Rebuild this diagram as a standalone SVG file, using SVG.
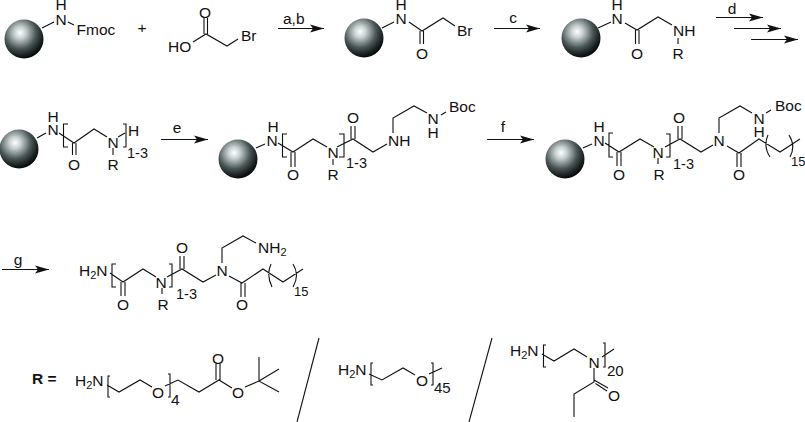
<svg xmlns="http://www.w3.org/2000/svg" width="805" height="422" viewBox="0 0 805 422">
<style>
text{font-family:"Liberation Sans",Arial,sans-serif;font-size:15.5px;fill:#111}
.c{text-anchor:middle}
.b{fill:none;stroke:#111;stroke-width:1.1}
.a{fill:none;stroke:#111;stroke-width:1.1;marker-end:url(#ah)}
.sub{font-size:11px}
.n13{font-size:13px}
.n14{font-size:14.500px}
.n15{font-size:15px}
</style>
<defs>
<radialGradient id="ball" cx="0.4" cy="0.34" r="0.68"><stop offset="0" stop-color="#fff"/><stop offset="0.22" stop-color="#c8d0d0"/><stop offset="0.6" stop-color="#4a5656"/><stop offset="0.85" stop-color="#1a2020"/><stop offset="1" stop-color="#040606"/></radialGradient>
<marker id="ah" markerUnits="userSpaceOnUse" markerWidth="16" markerHeight="10" refX="14" refY="4" orient="auto" overflow="visible"><path d="M0 0L14 4L0 8L3 4Z" fill="#111"/></marker>
</defs>
<g id="connectors">
<path class="a" d="M278 28.500H324"/>
<path class="a" d="M494 28.500H540"/>
<path class="a" d="M716 17.500H763"/>
<path class="a" d="M734 28.500H781"/>
<path class="a" d="M751 39.500H798"/>
<path class="a" d="M161 139.500H208"/>
<path class="a" d="M487 139.500H534"/>
<path class="a" d="M2 269.500H49"/>
</g>
<g id="node-1">
<circle cx="24" cy="39" r="19.500" fill="url(#ball)"/>
<path class="b" d="M42 28L54 22M68 22L74 25"/>
<text class="c" x="61" y="24.500">N</text><text class="c" x="61" y="10">H</text><text x="76.500" y="35">Fmoc</text>
</g>
<text id="plus" class="c" x="142" y="33">+</text>
<g id="node-2">
<path class="b" d="M193 42L206 34L227 46L238 39M204 34V18M207.500 34V18"/>
<text x="168" y="52">HO</text><text class="c" x="205" y="18">O</text><text x="241" y="40.500">Br</text>
</g>
<text id="label-ab" x="283" y="23.500">a,b</text>
<g id="node-3">
<circle cx="364" cy="38" r="19.500" fill="url(#ball)"/>
<path class="b" d="M382 28L394 22M409 22L422 31L443 18L455 26M420 31V44M423.500 31V44"/>
<text class="c" x="401" y="24">N</text><text class="c" x="401" y="10">H</text><text class="c" x="422" y="58.500">O</text><text x="457" y="35.500">Br</text>
</g>
<text id="label-c" class="c" x="513" y="23">c</text>
<g id="node-4">
<circle cx="581" cy="38" r="19.500" fill="url(#ball)"/>
<path class="b" d="M598 28L611 22M625 23L637 30L658 17L672 25M635.500 30V44M639 30V44M678 38V44"/>
<text class="c" x="617" y="23.500">N</text><text class="c" x="617" y="10">H</text><text class="c" x="637" y="58.500">O</text><text x="673" y="36">NH</text><text class="c" x="678" y="58.500">R</text>
</g>
<text id="label-d" class="c" x="732" y="13.500">d</text>
<g id="node-5">
<circle cx="19" cy="149" r="19.500" fill="url(#ball)"/>
<path class="b" d="M37 138L46 133M68 124H63.500V147H68M59 133L74 143L94 129L107 137M72.500 143V155M76 143V155M113 148V155M118 137L125 133M123 124H126V147H123"/>
<text class="c" x="53" y="134.500">N</text><text class="c" x="53" y="122">H</text><text class="c" x="74" y="169.500">O</text><text class="c" x="113" y="147.500">N</text><text x="128" y="135.500">H</text><text class="c" x="113" y="169.500">R</text><text class="n14" x="127" y="158">1-3</text>
</g>
<text id="label-e" class="c" x="177" y="133">e</text>
<g id="node-6">
<circle cx="238" cy="159" r="19.500" fill="url(#ball)"/>
<path class="b" d="M256 148L265 144M287 134H282.500V157H287M278 143L293 152L313 139L327 147M291 152V167M295 152V167M333 159V165M339 134H344V157H339M337 147L353 139L373 152L387 144M351 139V126M355 139V126M393 133V118L414 106L427 113M441 115L446 112"/>
<text class="c" x="272" y="145.500">N</text><text class="c" x="273" y="131.500">H</text><text class="c" x="293" y="179.500">O</text><text class="c" x="333" y="157.500">N</text><text class="c" x="333" y="179.500">R</text><text class="n14" x="346" y="168">1-3</text><text class="c" x="353" y="122.500">O</text><text x="388" y="146">NH</text><text class="c" x="433" y="123.500">N</text><text class="c" x="433" y="137.500">H</text><text x="449" y="112">Boc</text>
</g>
<text id="label-f" class="c" x="503" y="132">f</text>
<g id="node-7">
<circle cx="565" cy="159" r="19.500" fill="url(#ball)"/>
<path class="b" d="M583 148L592 144M613 133H609V157H613M605 143L619 152L640 139L654 147M617 152V166M621 152V166M658 158V164M666 134H670V157H666M665 147L680 139L701 152L713 145M678 139V126M682 139V126M719 133V118L740 106L752 113M766 113L771 110M727 146L739 153L759 139L780 152L800 139M737 153V167M741 153V167M768 135Q763 146 770 157M789 135Q796 146 790 157"/>
<text class="c" x="599" y="145.500">N</text><text class="c" x="599" y="132">H</text><text class="c" x="619" y="179.500">O</text><text class="c" x="658" y="157.500">N</text><text class="c" x="659" y="180">R</text><text class="n14" x="673" y="169">1-3</text><text class="c" x="679" y="122.500">O</text><text class="c" x="719" y="145.500">N</text><text class="c" x="759" y="123.500">N</text><text class="c" x="759" y="137">H</text><text x="775" y="111">Boc</text><text class="c" x="739" y="179.500">O</text><text class="n13" x="791" y="166">15</text>
</g>
<text id="label-g" class="c" x="18" y="265">g</text>
<g id="node-8">
<path class="b" d="M116 264H112V287H116M110 273L123 282L143 269L156 277M121 282V296M125 282V296M162 288V294M169 264H172V287H169M167 277L182 269L203 282L216 275M180 269V256M184 269V256M222 263V248L243 236L256 243M229 276L242 283L263 269L283 282L303 269M241 283V297M245 283V297M271 264Q266 275 272 287M293 264Q300 275 293 287"/>
<text x="79" y="276">H<tspan class="sub" dy="3">2</tspan><tspan dy="-3">N</tspan></text><text class="c" x="123" y="309.500">O</text><text class="c" x="161" y="287.500">N</text><text class="c" x="163" y="309.500">R</text><text class="n14" x="176" y="299">1-3</text><text class="c" x="182" y="252.500">O</text><text class="c" x="222" y="275.500">N</text><text x="258" y="253">NH<tspan class="sub" dy="3">2</tspan></text><text class="c" x="242" y="309.500">O</text><text class="n13" x="294" y="296">15</text>
</g>
<text id="r-label" x="32" y="384" style="font-weight:bold">R =</text>
<g id="r1">
<path class="b" d="M110 376H108V397H110M107 385L119 392L140 380L152 387M168 374H170V397H168M165 386L178 380L199 392L219 380L232 388M216 380V364M220 380V364M245 387L259 381L279 392M259 381V357M259 381L279 369"/>
<text x="75" y="386">H<tspan class="sub" dy="3">2</tspan><tspan dy="-3">N</tspan></text><text class="c" x="158" y="397.500">O</text><text x="171" y="405">4</text><text class="c" x="218" y="363.500">O</text><text class="c" x="238" y="397.500">O</text>
</g>
<path class="b" id="slash-1" d="M319 338L297 422"/>
<g id="r2">
<path class="b" d="M373 363H371V385H373M369 374L382 380L403 368L415 375M431 363H433V385H431M429 374L442 368"/>
<text x="338" y="375">H<tspan class="sub" dy="3">2</tspan><tspan dy="-3">N</tspan></text><text class="c" x="422" y="385.500">O</text><text class="n15" x="434" y="393">45</text>
</g>
<path class="b" id="slash-2" d="M492 338L469 422"/>
<g id="r3">
<path class="b" d="M546 345H543.500V367H546M542 354L554 361L574 349L587 357M603 343H605V367H603M602 357L614 349M594 368V382L574 394V417M594 380L608 388M595.500 383.500L607 391"/>
<text x="510" y="356">H<tspan class="sub" dy="3">2</tspan><tspan dy="-3">N</tspan></text><text class="c" x="594" y="367.500">N</text><text class="n15" x="607" y="376">20</text><text class="c" x="614" y="400.500">O</text>
</g>
</svg>
